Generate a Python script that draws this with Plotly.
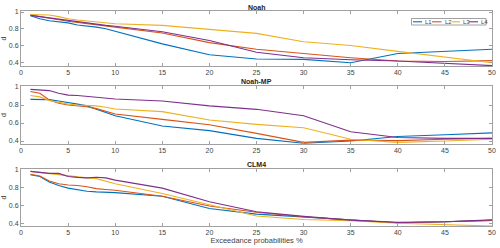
import plotly.graph_objects as go

x_vals = [1, 2, 3, 4, 5, 6, 7, 8, 9, 10, 15, 20, 25, 30, 35, 40, 45, 50]
series_names = ["L1", "L2", "L3", "L4"]
colors = ["#0072BD", "#D95319", "#EDB120", "#7E2F8E"]
panel_titles = ["Noah", "Noah-MP", "CLM4"]

noah_L1 = [0.955, 0.92, 0.895, 0.88, 0.87, 0.845, 0.835, 0.82, 0.80, 0.77, 0.62, 0.49, 0.44, 0.435, 0.395, 0.505, 0.53, 0.555]
noah_L2 = [0.965, 0.945, 0.925, 0.91, 0.89, 0.875, 0.86, 0.85, 0.835, 0.82, 0.75, 0.635, 0.555, 0.505, 0.455, 0.415, 0.41, 0.42]
noah_L3 = [0.97, 0.968, 0.965, 0.945, 0.92, 0.905, 0.895, 0.885, 0.87, 0.86, 0.84, 0.79, 0.745, 0.645, 0.60, 0.53, 0.465, 0.395]
noah_L4 = [0.96, 0.945, 0.93, 0.915, 0.90, 0.88, 0.865, 0.85, 0.84, 0.83, 0.765, 0.66, 0.52, 0.455, 0.43, 0.415, 0.385, 0.36]

noahmp_L1 = [0.863, 0.862, 0.86, 0.845, 0.83, 0.81, 0.79, 0.756, 0.715, 0.68, 0.567, 0.515, 0.43, 0.375, 0.40, 0.45, 0.47, 0.49]
noahmp_L2 = [0.95, 0.93, 0.855, 0.82, 0.80, 0.79, 0.78, 0.76, 0.73, 0.70, 0.64, 0.58, 0.485, 0.385, 0.41, 0.405, 0.42, 0.43]
noahmp_L3 = [0.905, 0.89, 0.85, 0.83, 0.81, 0.80, 0.795, 0.79, 0.775, 0.756, 0.726, 0.633, 0.585, 0.548, 0.42, 0.385, 0.40, 0.42]
noahmp_L4 = [0.974, 0.965, 0.96, 0.93, 0.91, 0.905, 0.895, 0.885, 0.875, 0.867, 0.845, 0.79, 0.752, 0.68, 0.503, 0.44, 0.43, 0.43]

clm4_L1 = [0.94, 0.92, 0.86, 0.82, 0.79, 0.77, 0.755, 0.748, 0.745, 0.74, 0.70, 0.563, 0.50, 0.47, 0.433, 0.403, 0.415, 0.43]
clm4_L2 = [0.945, 0.925, 0.87, 0.84, 0.825, 0.82, 0.805, 0.785, 0.775, 0.767, 0.70, 0.59, 0.52, 0.47, 0.433, 0.403, 0.415, 0.43]
clm4_L3 = [0.978, 0.965, 0.95, 0.94, 0.926, 0.915, 0.905, 0.896, 0.865, 0.84, 0.73, 0.60, 0.478, 0.44, 0.425, 0.397, 0.38, 0.367]
clm4_L4 = [0.978, 0.965, 0.955, 0.955, 0.92, 0.91, 0.905, 0.912, 0.905, 0.88, 0.79, 0.637, 0.526, 0.475, 0.433, 0.407, 0.415, 0.435]

x_ticks = [0, 5, 10, 15, 20, 25, 30, 35, 40, 45, 50]
y_ticks = [0.4, 0.6, 0.8, 1.0]
y_tick_labels = ["0.4", "0.6", "0.8", "1"]

panels = [
    [noah_L1, noah_L2, noah_L3, noah_L4],
    [noahmp_L1, noahmp_L2, noahmp_L3, noahmp_L4],
    [clm4_L1, clm4_L2, clm4_L3, clm4_L4],
]

W, H = 500, 248
ML, MR, MT, MB = 21, 8, 11, 22
PW = W - ML - MR
PH = H - MT - MB


def py2paper(py):
    return (H - MB - py) / PH


def px2paper(px):
    return (px - ML) / PW


panel_px = [(11, 66), (86, 144), (169, 226)]
y_ranges = [[0.356, 1.012], [0.367, 1.011], [0.367, 1.004]]

fig = go.Figure()
tick_font = dict(family="Liberation Sans, Arial", size=7, color="#444444")
axis_color = "#a0a0a0"

for i, series in enumerate(panels):
    xa = "x" if i == 0 else f"x{i+1}"
    ya = "y" if i == 0 else f"y{i+1}"
    for name, vals, col in zip(series_names, series, colors):
        fig.add_trace(go.Scatter(x=x_vals, y=vals, mode="lines", name=name,
                                 line=dict(color=col, width=1.1),
                                 xaxis=xa, yaxis=ya, showlegend=False))
    top, bot = panel_px[i]
    dom = [py2paper(bot), min(1.0, py2paper(top))]
    xkey = "xaxis" if i == 0 else f"xaxis{i+1}"
    ykey = "yaxis" if i == 0 else f"yaxis{i+1}"
    xaxis = dict(domain=[0, 1], range=[-0.001, 50.001], anchor=ya, tickvals=x_ticks,
                 ticks="inside", ticklen=3, tickcolor=axis_color,
                 showline=True, linecolor=axis_color, linewidth=1, mirror="ticks",
                 showgrid=False, zeroline=False, tickfont=tick_font,
                 ticklabeloverflow="allow", automargin=False)
    yaxis = dict(domain=dom, range=y_ranges[i], anchor=xa, tickvals=y_ticks,
                 ticktext=y_tick_labels, ticks="inside", ticklen=3, tickcolor=axis_color,
                 showline=True, linecolor=axis_color, linewidth=1, mirror="ticks",
                 showgrid=False, zeroline=False, tickfont=tick_font,
                 ticklabeloverflow="allow", automargin=False,
                 title=dict(text="d", font=dict(family="Liberation Sans, Arial", size=7, color="#444444"), standoff=4))
    if i == 2:
        xaxis["title"] = dict(text="Exceedance probabilities %",
                              font=dict(family="Liberation Sans, Arial", size=7.5, color="#444444"),
                              standoff=2)
    fig.layout[xkey] = xaxis
    fig.layout[ykey] = yaxis

annotations = []
title_py = [7, 81, 164]
for t, py in zip(panel_titles, title_py):
    annotations.append(dict(text=f"<b>{t}</b>", x=px2paper(256.5), y=py2paper(py),
                            xref="paper", yref="paper", showarrow=False,
                            xanchor="center", yanchor="middle",
                            font=dict(family="Liberation Sans, Arial", size=7, color="#222222")))

# custom compact legend in panel 1
shapes = []
shapes.append(dict(type="rect", xref="paper", yref="paper",
                   x0=px2paper(411.5), x1=px2paper(486), y0=py2paper(25), y1=py2paper(18.5),
                   line=dict(color="#a0a0a0", width=1), fillcolor="white", layer="above"))
leg_line_x = [(413, 422), (432, 441.5), (452, 460), (469, 478)]
leg_text_x = [423, 442.5, 461, 479]
for name, col, (lx0, lx1), tx in zip(series_names, colors, leg_line_x, leg_text_x):
    shapes.append(dict(type="line", xref="paper", yref="paper",
                       x0=px2paper(lx0), x1=px2paper(lx1), y0=py2paper(21.8), y1=py2paper(21.8),
                       line=dict(color=col, width=1.1), layer="above"))
    annotations.append(dict(text=name, x=px2paper(tx), y=py2paper(21.8), xref="paper", yref="paper",
                            showarrow=False, xanchor="left", yanchor="middle",
                            font=dict(family="Liberation Sans, Arial", size=6, color="#444444")))

fig.update_layout(width=W, height=H, margin=dict(l=ML, r=MR, t=MT, b=MB),
                  paper_bgcolor="white", plot_bgcolor="white",
                  annotations=annotations, shapes=shapes, showlegend=False)

fig.write_html("out.html", config={"displayModeBar": False},
               post_script="document.body.style.margin='0';document.body.style.overflow='hidden';")
